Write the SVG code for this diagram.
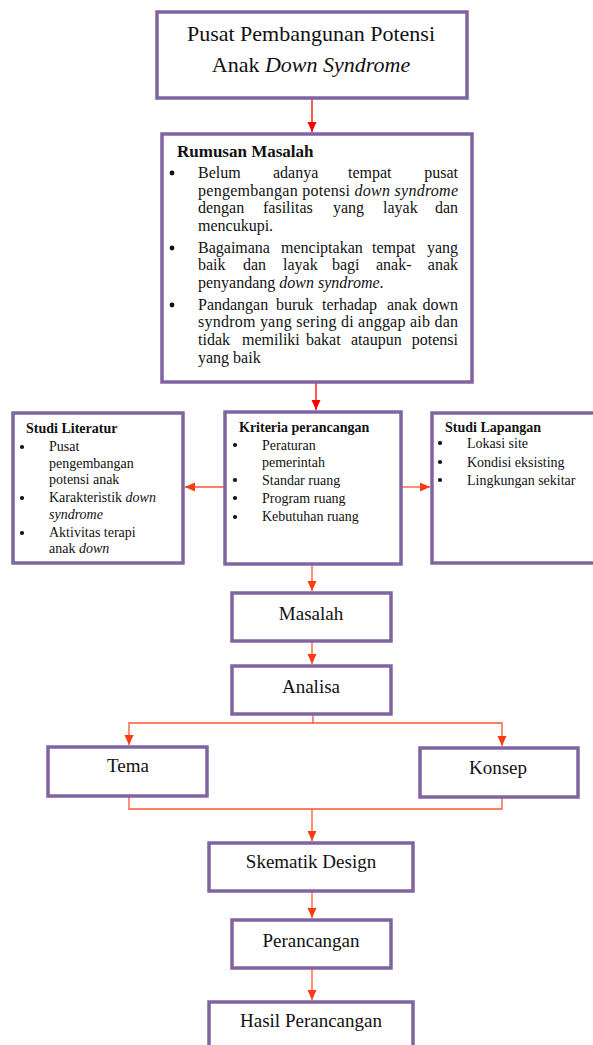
<svg xmlns="http://www.w3.org/2000/svg" width="593" height="1045" viewBox="0 0 593 1045">
<style>
.box{fill:#fff;stroke:#8064A2;stroke-width:3.5}
.t{font-family:"Liberation Serif","Times New Roman",serif;fill:#111}
.big{font-size:22px}
.mid{font-size:19px}
.body{font-size:16px}
.sm{font-size:14px}
.b{font-weight:bold}
.i{font-style:italic}
.c{text-anchor:middle}
.e{text-anchor:end}
.dot{fill:#111}
.red{fill:none;stroke:#FF0000;stroke-width:1.3}
.org{fill:none;stroke:#FF5533;stroke-width:1.3}
</style>
<defs>
<marker id="ar" markerUnits="userSpaceOnUse" markerWidth="10" markerHeight="10" viewBox="0 0 10 10" refX="10" refY="5" orient="auto"><path d="M0,0.5 L10,5 L0,9.5 z" fill="#FF0000"/></marker>
<marker id="ao" markerUnits="userSpaceOnUse" markerWidth="10" markerHeight="10" viewBox="0 0 10 10" refX="10" refY="5" orient="auto"><path d="M0,0.5 L10,5 L0,9.5 z" fill="#FF3A10"/></marker>
</defs>
<rect width="593" height="1045" fill="#fff"/>

<g id="connectors">
<path class="red" d="M312,98 V132" marker-end="url(#ar)"/>
<path class="red" d="M316,382 V410" marker-end="url(#ar)"/>
<path class="org" d="M225,487 H185" marker-end="url(#ao)"/>
<path class="org" d="M401,487 H430" marker-end="url(#ao)"/>
<path class="org" d="M312,564 V591" marker-end="url(#ao)"/>
<path class="org" d="M312,641 V664" marker-end="url(#ao)"/>
<path class="org" d="M313,714 V723 H129 V745" marker-end="url(#ao)"/>
<path class="org" d="M313,723 H502 V746" marker-end="url(#ao)"/>
<path class="org" d="M129,796 V809 H502 V797"/>
<path class="org" d="M312,809 V841" marker-end="url(#ao)"/>
<path class="org" d="M312,891 V918" marker-end="url(#ao)"/>
<path class="org" d="M312,968 V1000" marker-end="url(#ao)"/>
</g>

<g id="judul">
<rect class="box" x="157" y="12" width="310" height="86"/>
<text class="t big c" x="311" y="41">Pusat Pembangunan Potensi</text>
<text class="t big c" x="311" y="72">Anak <tspan class="i">Down Syndrome</tspan></text>
</g>

<g id="rumusan-masalah">
<rect class="box" x="162" y="134" width="310" height="248"/>
<text class="t body b" x="177" y="157" style="font-size:17px">Rumusan Masalah</text>
<circle class="dot" cx="172" cy="173" r="2.4"/>
<circle class="dot" cx="172" cy="248" r="2.4"/>
<circle class="dot" cx="172" cy="305" r="2.4"/>
<text class="t body" y="178"><tspan x="198">Belum</tspan><tspan x="273">adanya</tspan><tspan x="348">tempat</tspan><tspan x="458" class="e">pusat</tspan></text>
<text class="t body" x="198" y="196" textLength="260" lengthAdjust="spacing">pengembangan potensi <tspan class="i">down syndrome</tspan></text>
<text class="t body" y="213"><tspan x="198">dengan</tspan><tspan x="263">fasilitas</tspan><tspan x="333">yang</tspan><tspan x="383">layak</tspan><tspan x="458" class="e">dan</tspan></text>
<text class="t body" x="198" y="231">mencukupi.</text>
<text class="t body" y="253"><tspan x="198">Bagaimana</tspan><tspan x="281">menciptakan</tspan><tspan x="372">tempat</tspan><tspan x="458" class="e">yang</tspan></text>
<text class="t body" y="270"><tspan x="198">baik</tspan><tspan x="243">dan</tspan><tspan x="283">layak</tspan><tspan x="332">bagi</tspan><tspan x="376">anak-</tspan><tspan x="458" class="e">anak</tspan></text>
<text class="t body" x="198" y="288">penyandang <tspan class="i">down syndrome</tspan>.</text>
<text class="t body" y="310"><tspan x="198">Pandangan</tspan><tspan x="276">buruk</tspan><tspan x="322">terhadap</tspan><tspan x="387">anak</tspan><tspan x="458" class="e">down</tspan></text>
<text class="t body" x="198" y="327" textLength="260" lengthAdjust="spacing">syndrom yang sering di anggap aib dan</text>
<text class="t body" y="345"><tspan x="198">tidak</tspan><tspan x="242">memiliki</tspan><tspan x="306">bakat</tspan><tspan x="351">ataupun</tspan><tspan x="458" class="e">potensi</tspan></text>
<text class="t body" x="198" y="363">yang baik</text>
</g>

<g id="studi-literatur">
<rect class="box" x="13" y="413" width="170" height="150"/>
<text class="t sm b" x="26" y="433">Studi Literatur</text>
<circle class="dot" cx="22" cy="447" r="2.1"/>
<circle class="dot" cx="22" cy="498" r="2.1"/>
<circle class="dot" cx="22" cy="533" r="2.1"/>
<text class="t sm" x="49" y="451">Pusat</text>
<text class="t sm" x="49" y="468">pengembangan</text>
<text class="t sm" x="49" y="484">potensi anak</text>
<text class="t sm" x="49" y="502">Karakteristik <tspan class="i">down</tspan></text>
<text class="t sm i" x="49" y="519">syndrome</text>
<text class="t sm" x="49" y="537">Aktivitas terapi</text>
<text class="t sm" x="49" y="553">anak <tspan class="i">down</tspan></text>
</g>

<g id="kriteria-perancangan">
<rect class="box" x="225" y="412" width="176" height="152"/>
<text class="t sm b" x="239" y="432">Kriteria perancangan</text>
<circle class="dot" cx="235" cy="445" r="2.1"/>
<circle class="dot" cx="235" cy="480" r="2.1"/>
<circle class="dot" cx="235" cy="498" r="2.1"/>
<circle class="dot" cx="235" cy="517" r="2.1"/>
<text class="t sm" x="262" y="450">Peraturan</text>
<text class="t sm" x="262" y="467">pemerintah</text>
<text class="t sm" x="262" y="485">Standar ruang</text>
<text class="t sm" x="262" y="503">Program ruang</text>
<text class="t sm" x="262" y="521">Kebutuhan ruang</text>
</g>

<g id="studi-lapangan">
<rect class="box" x="432" y="413" width="175" height="150"/>
<text class="t sm b" x="445" y="432">Studi Lapangan</text>
<circle class="dot" cx="440" cy="443" r="2.1"/>
<circle class="dot" cx="440" cy="462" r="2.1"/>
<circle class="dot" cx="440" cy="480" r="2.1"/>
<text class="t sm" x="467" y="448">Lokasi site</text>
<text class="t sm" x="467" y="467">Kondisi eksisting</text>
<text class="t sm" x="467" y="485">Lingkungan sekitar</text>
</g>

<g id="masalah">
<rect class="box" x="232" y="593" width="159" height="48"/>
<text class="t mid c" x="311" y="620">Masalah</text>
</g>

<g id="analisa">
<rect class="box" x="232" y="666" width="159" height="48"/>
<text class="t mid c" x="311" y="693">Analisa</text>
</g>

<g id="tema">
<rect class="box" x="48" y="747" width="159" height="49"/>
<text class="t mid c" x="128" y="772">Tema</text>
</g>

<g id="konsep">
<rect class="box" x="420" y="748" width="158" height="49"/>
<text class="t mid c" x="498" y="774">Konsep</text>
</g>

<g id="skematik-design">
<rect class="box" x="209" y="843" width="204" height="48"/>
<text class="t mid c" x="311" y="868">Skematik Design</text>
</g>

<g id="perancangan">
<rect class="box" x="232" y="920" width="159" height="48"/>
<text class="t mid c" x="311" y="947">Perancangan</text>
</g>

<g id="hasil-perancangan">
<rect class="box" x="209" y="1002" width="204" height="60"/>
<text class="t mid c" x="311" y="1027">Hasil Perancangan</text>
</g>
</svg>
